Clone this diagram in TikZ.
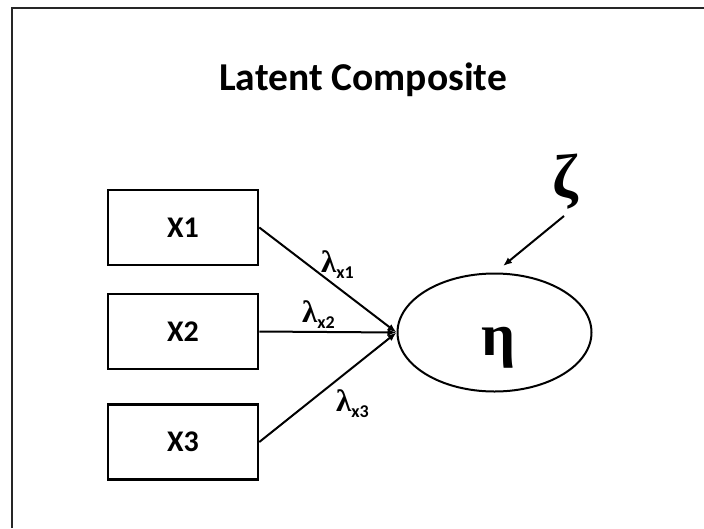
\documentclass[tikz,border=0pt]{standalone}
\usepackage{fontspec}
\setmainfont{Carlito}
\newfontfamily\grk{Liberation Serif}
\usetikzlibrary{shapes.geometric,arrows.meta}
\tikzset{
  obsbox/.style={draw, line width=2.6pt, minimum width=150pt, minimum height=75pt, inner sep=0pt,
    font=\fontsize{30}{30}\selectfont\bfseries},
  latent/.style={draw, ellipse, line width=2pt, minimum width=194pt, minimum height=118pt, inner sep=0pt},
  path/.style={line width=2pt, -{Latex[length=9pt,width=7pt]}},
  lbl/.style={inner sep=0pt, anchor=base west}
}
\newcommand{\lam}[1]{{\grk\bfseries\fontsize{31}{31}\selectfont λ}\raisebox{-6pt}{\fontsize{18}{18}\selectfont\bfseries #1}}
\begin{document}
\begin{tikzpicture}[x=1pt,y=-1pt]
\useasboundingbox (0,0) rectangle (704,528);
\fill[white] (0,0) rectangle (704,528);
\draw[line width=2pt, black!85] (12,528) -- (12,8) -- (704,8);
\node[inner sep=0pt, anchor=base, font=\fontsize{39.5}{40}\selectfont\bfseries] (title) at (363,90) {Latent Composite};
\node[obsbox] (x1) at (183,227.5) {X1};
\node[obsbox] (x2) at (183,331.5) {X2};
\node[obsbox] (x3) at (183,442) {X3};
\node[latent] (eta) at (494.5,332.5) {};
\node[inner sep=0pt, anchor=base, font=\grk\bfseries\fontsize{60}{60}\selectfont] (etal) at (499,355) {η};
\node[inner sep=0pt, font=\grk\bfseries\fontsize{62}{62}\selectfont] (zeta) at (565,182) {ζ};
\coordinate (zs) at (564,216);
\coordinate (zt) at (503,266);
\draw[path] (x1.east) -- (eta.west);
\draw[path] (x2.east) -- (eta.west);
\draw[path] (x3.east) -- (eta.west);
\draw[path] (zs) -- (zt);
\node[lbl] (l1) at (321,272) {\lam{x1}};
\node[lbl] (l2) at (302,322) {\lam{x2}};
\node[lbl] (l3) at (336,411) {\lam{x3}};
\end{tikzpicture}
\end{document}
